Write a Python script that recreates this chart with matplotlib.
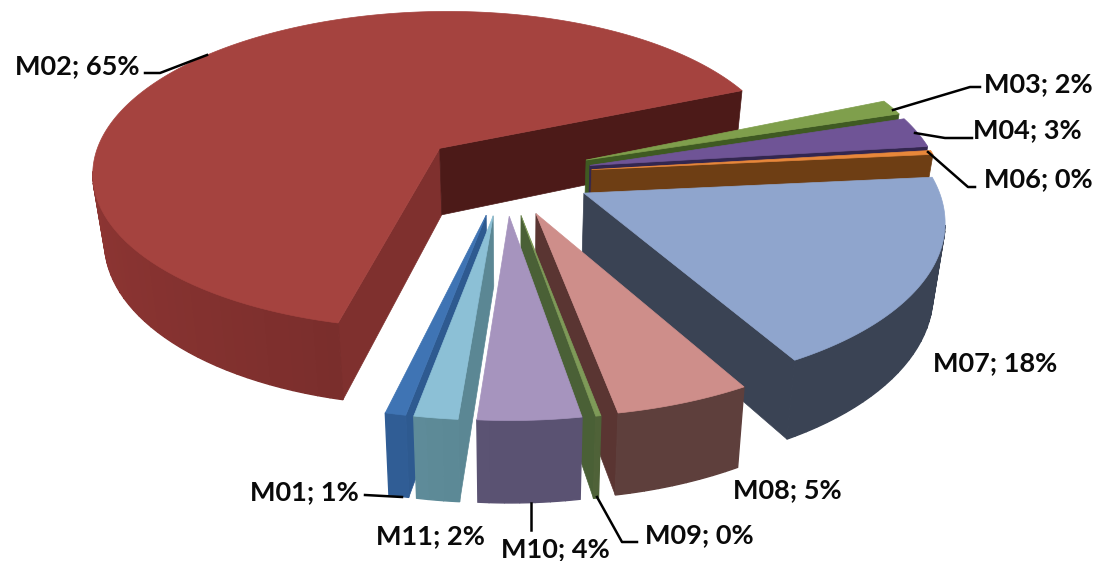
import numpy as np
import matplotlib
matplotlib.use('Agg')
import matplotlib.pyplot as plt
from matplotlib.patches import Polygon

# clockwise order, M05 has no slice in the source chart
names = ['M02', 'M03', 'M04', 'M06', 'M07', 'M08', 'M09', 'M10', 'M11', 'M01']
shares = [65.4, 1.5, 3, 0.4, 18.49, 5.3, 0.2, 4, 1.7, 0.8]
top_colors = ['#A5433F', '#7F9F4C', '#6F5496', '#E8873A', '#8FA5CD',
              '#CE8E8A', '#7E9A58', '#A694BE', '#8CC0D6', '#3F74B4']
wall_colors = ['#752C2A', '#4F6A2A', '#4A3768', '#6E3E14', '#3A4354',
               '#5E3F3C', '#4F6238', '#5A5272', '#5B8794', '#2E5A90']
inner_colors = ['#4C1A18', '#3F5A22', '#33264F', '#6E3E14', '#3A4354',
                '#5A3532', '#4A6036', '#4A4464', '#6FA3B2', '#2F659F']
start_wall = ['#7F302E', '#4F6A2A', '#4A3768', '#6E3E14', '#3A4354',
              '#5E3F3C', '#4F6238', '#5A5272', '#5B8794', '#2E5A90']

label_texts = [f'{n}; {round(v)}%' for n, v in zip(names, shares)]
label_xy = [(15, 66), (984, 84), (973, 130), (984, 179), (933, 363),
            (733, 490), (645, 535), (501, 549), (376, 536), (250, 492)]
leaders = [
    [(145, 73), (160, 73), (207, 55)],
    [(893, 110), (970, 87), (980, 87)],
    [(915, 133), (945, 138), (972, 138)],
    [(928, 152), (968, 187), (975, 187)],
    [],
    [],
    [(597, 497), (622, 542), (637, 542)],
    [(531, 503), (531, 530)],
    [],
    [(365, 495), (402, 497)],
]

first_angle = 67   # clockwise from the back of the pie, where M03 starts
cx, cy = 505, 174
radius = 350
tilt = 0.465
persp = 0.14
depth = 68
explode = 0.25
# vertical edges lean in towards this x
vanish_x = 515
lean = 0.028


def project(u, v, h=0.0):
    s = 1 / (1 - persp * v)
    x = cx + radius * u * s
    return vanish_x + (x - vanish_x) * (1 - lean * h), cy + radius * tilt * v * s + depth * s * h


def shade(color, f):
    rgb = np.array(matplotlib.colors.to_rgb(color))
    return tuple(np.clip(rgb * f, 0, 1))


fig, ax = plt.subplots(figsize=(11, 5.61), dpi=100)
ax.set_xlim(0, 1100)
ax.set_ylim(561, 0)
ax.axis('off')
fig.subplots_adjust(0, 0, 1, 1)

# M02 is listed first but its sweep ends where M03 starts
total = sum(shares)
sweeps = [v / total * 360 for v in shares]
start = first_angle - sweeps[0]
slices = []
for i, sw in enumerate(sweeps):
    slices.append((i, start, start + sw))
    start += sw

# back to front
slices.sort(key=lambda a: -np.cos(np.radians((a[1] + a[2]) / 2)))

z = 1
for i, a0, a1 in slices:
    mid = np.radians((a0 + a1) / 2)
    ou, ov = explode * np.sin(mid), -explode * np.cos(mid)
    fine = np.radians(np.linspace(a0, a1, max(int((a1 - a0) * 2), 3)))

    apex = project(ou, ov)
    apex_b = project(ou, ov, 1)
    rim_t = [project(ou + np.sin(a), ov - np.cos(a)) for a in fine]
    rim_b = [project(ou + np.sin(a), ov - np.cos(a), 1) for a in fine]

    # radial walls, only the ones turned to the viewer
    if rim_t[0][0] < apex[0]:
        ax.add_patch(Polygon([apex, rim_t[0], rim_b[0], apex_b], fc=start_wall[i],
                             ec=start_wall[i], lw=0.5, zorder=z))
    if rim_t[-1][0] > apex[0]:
        ax.add_patch(Polygon([apex, rim_t[-1], rim_b[-1], apex_b], fc=inner_colors[i],
                             ec=inner_colors[i], lw=0.5, zorder=z))
    z += 1
    # outer rim in coarse shaded bands
    step = 4
    for j in range(0, len(fine) - 1, step):
        k = min(j + step, len(fine) - 1)
        if rim_t[k][0] < rim_t[j][0]:
            f = 1.0 + 0.2 * max(np.sin(fine[j] - np.pi), 0)
            c = shade(wall_colors[i], f)
            ax.add_patch(Polygon(rim_t[j:k + 1] + rim_b[j:k + 1][::-1], fc=c, ec=c,
                                 lw=1.0, zorder=z))
    z += 1
    ax.add_patch(Polygon([apex] + rim_t, fc=top_colors[i], ec=top_colors[i],
                         lw=0.5, zorder=z))
    z += 1

for line in leaders:
    if line:
        xs, ys = zip(*line)
        ax.plot(xs, ys, color='black', lw=1.8, zorder=z)

for txt, (x, y) in zip(label_texts, label_xy):
    ax.text(x, y, txt, family='Lato', weight='bold', fontsize=19.5, color='#0a0a0a',
            ha='left', va='center', zorder=z + 1)

fig.savefig('out.png', dpi=100)
